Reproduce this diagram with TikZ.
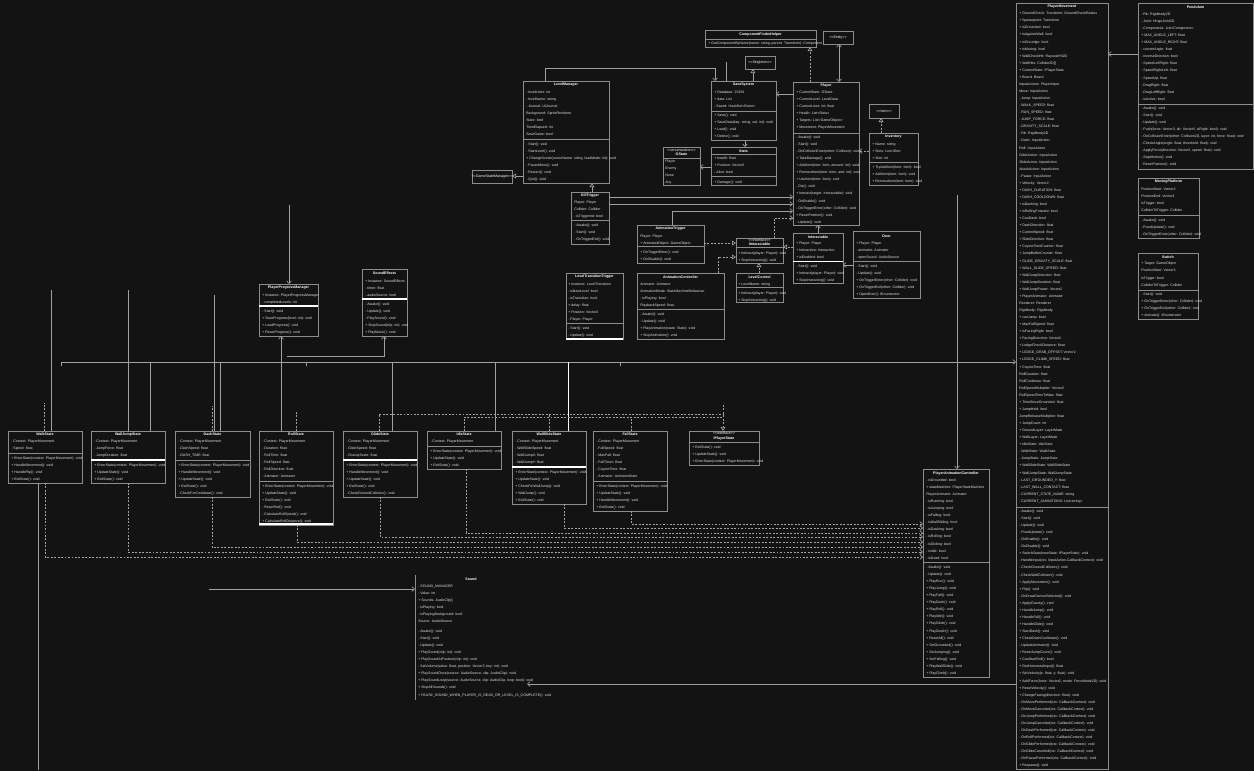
\documentclass[tikz,border=0pt]{standalone}
\usepackage{fontspec}
\setmainfont{Liberation Sans}
\usetikzlibrary{arrows.meta}
\definecolor{bgc}{HTML}{131313}
\definecolor{boxc}{HTML}{8C8C8C}
\definecolor{txt}{HTML}{E4E4E4}
\definecolor{lnc}{HTML}{A0A0A0}
\newcommand\Lg{{<}{<}}
\newcommand\Rg{{>}{>}}
\newcommand\UCls[8][]{\node[clsbox,#1,minimum width={(#5-#3)*0.75pt},minimum height={(#6-#4)*0.75pt}] (#2) at (#3,#4) {};\node[clstitle] (#2-t) at ({(#3+#5)/2},#8) {#7};}
\newcommand\URows[4]{\node[clsrow] (#1) at (#2,#3) {#4};}
\newcommand\USep[4]{\draw[#4] (#1,#3) -- (#2,#3);}
\begin{document}
\begin{tikzpicture}[x=0.75pt,y=-0.75pt,
 clsbox/.style={draw=boxc,line width=0.55pt,anchor=north west,inner sep=0pt,outer sep=0pt},
 clstitle/.style={font=\fontsize{2.7}{3.3}\selectfont\bfseries,text=white,inner sep=0pt,align=center},
 clsrow/.style={font=\fontsize{2.65}{5.3}\selectfont,text=txt,align=left,anchor=north west,inner sep=0pt},
 sepl/.style={draw=boxc,line width=0.55pt},
 sepw/.style={draw=white,line width=0.9pt},
 conn/.style={draw=lnc,line width=0.45pt},
 dconn/.style={draw=lnc,line width=0.5pt,dash pattern=on 1.4pt off 1.2pt},
 hd/.style={-{Straight Barb[length=2pt,width=3.6pt]}},
 tri/.style={-{Triangle[open,length=3pt,width=3.6pt]}},
 hdb/.style={{Straight Barb[length=2pt,width=3.6pt]}-{Straight Barb[length=2pt,width=3.6pt]}}]
\fill[bgc] (0,0) rectangle (1254,771);
\useasboundingbox (0,0) rectangle (1254,771);

% ---------- top area ----------
\UCls{comp}{705}{30}{816}{47}{ComponentFinderHelper}{34.5}
\USep{705}{816}{39}{sepl}
\URows{comp-a}{708}{42.1}{+ GetComponentByName(name: string, parent: Transform): Component}

\UCls{st1}{745}{56}{775}{69}{\mdseries\Lg Singleton\Rg}{62.5}
\UCls{st2}{823}{31}{853}{44}{\mdseries\Lg Entity\Rg}{37.5}
\UCls{st3}{869}{104}{899}{118}{\mdseries\Lg Item\Rg}{111}

\UCls{lm}{523}{81}{609}{183}{LevelManager}{85}
\URows{lm-a}{526}{90.6}{- levelIndex: int\\- levelName: string\\- Journal: UIJournal\\Background: SpriteRenderer\\State: bool\\TimeElapsed: int\\SaveGame: bool}
\USep{523}{609}{139}{sepl}
\URows{lm-m}{526}{142.6}{- Start(): void\\- StartLevel(): void\\+ ChangeScene(sceneName: string, loadMode: int): void\\- PauseMenu(): void\\- Restart(): void\\- Quit(): void}

\UCls{gsm}{472}{170}{512}{183}{\mdseries\Lg GameStateManager\Rg}{176.5}

\UCls{ui}{711}{81}{776}{140}{SaveSystem}{85}
\URows{ui-a}{714}{90.6}{+ Database: JSON\\+ data: List\\- Saved: HashSet<Event>}
\USep{711}{776}{111}{sepl}
\URows{ui-m}{714}{113.6}{+ Save(): void\\+ SaveData(key: string, val: int): void\\+ Load(): void\\+ Delete(): void}

\UCls{enum}{663}{147}{700}{185}{\mdseries\Lg enumeration\Rg\\GState}{152.5}
\USep{663}{700}{158}{sepl}
\URows{enum-a}{665}{159.6}{Player\\Enemy\\None\\Any}

\UCls{stats}{711}{147}{776}{185}{Stats}{151}
\USep{711}{776}{154.5}{sepl}
\URows{stats-a}{714}{156.6}{+ health: float\\+ Position: Vector3\\- Alive: bool}
\USep{711}{776}{176.5}{sepl}
\URows{stats-m}{714}{180.6}{+ Damage(): void}

\UCls{player}{793}{82}{859}{225}{Player}{86}
\URows{player-a}{796}{90.6}{+ CurrentState: GState\\+ CurrentLevel: LevelData\\+ CurrentLives: int; float\\+ Health: List<Stats>\\+ Targets: List<GameObject>\\+ Movement: PlayerMovement}
\USep{793}{859}{133}{sepl}
\URows{player-m}{796}{135.6}{- Awake(): void\\- Start(): void\\- OnCollisionEnter(other: Collision): void\\+ TakeDamage(): void\\+ AddItem(item: Item, amount: int): void\\+ RemoveItem(item: Item, amt: int): void\\+ UseItem(item: Item): void\\- Die(): void\\+ Interact(target: Interactable): void\\- OnEnable(): void\\- OnTriggerEnter(other: Collider): void\\+ ResetPosition(): void\\- Update(): void}

\UCls{inv}{869}{133}{918}{185}{Inventory}{137}
\URows{inv-a}{872}{142.6}{+ Name: string\\+ Slots: List<Slot>\\+ Size: int}
\USep{869}{918}{162}{sepl}
\URows{inv-m}{872}{165.6}{+ TryAddItem(item: Item): bool\\+ AddItem(item: Item): void\\+ RemoveItem(item: Item): void}

\UCls{kill}{571}{192}{609}{244}{KillTrigger}{196}
\URows{kill-a}{574}{200.6}{Player: Player\\Collider: Collider\\- isTriggered: bool}
\USep{571}{609}{220}{sepl}
\URows{kill-m}{574}{223.6}{- Awake(): void\\- Start(): void\\- OnTriggerExit(): void}

\UCls{anim}{637}{225}{704}{263}{AnimationTrigger}{229}
\URows{anim-a}{640}{234.6}{Player: Player\\+ AnimatedObject: GameObject}
\USep{637}{704}{246.5}{sepl}
\URows{anim-m}{640}{250.6}{+ OnTriggerEnter(): void\\+ OnDisable(): void}

\UCls{pt}{566}{273}{623}{339}{LevelTransitionTrigger}{277}
\URows{pt-a}{568}{282.6}{+ Instance: LevelTransition\\- isNextLevel: bool\\- isTransition: bool\\+ delay: float\\+ Position: Vector3\\- Player: Player}
\USep{566}{623}{323}{sepl}
\URows{pt-m}{568}{326.6}{- Start(): void\\- Update(): void}
\USep{566}{623}{339}{sepw}

\UCls{anctrl}{637}{273}{724}{339}{AnimationController}{277}
\URows{anctrl-a}{640}{282.6}{Animator: Animator\\AnimationMode: StateMachineBehaviour\\- isPlaying: bool\\PlaybackSpeed: float}
\USep{637}{724}{309}{sepl}
\URows{anctrl-m}{640}{312.6}{- Awake(): void\\- Update(): void\\+ PlayAnimation(state: State): void\\+ StopAnimation(): void}

\UCls{iface}{736}{238}{783}{263}{\mdseries\Lg Interface\Rg\\IInteractable}{242.5}
\USep{736}{783}{247.5}{sepl}
\URows{iface-m}{738}{251.6}{+ Interact(player: Player): void\\+ StopInteracting(): void}

\UCls{lc}{736}{273}{783}{302}{LevelControl}{277}
\URows{lc-a}{738}{282.6}{+ LevelName: string}
\USep{736}{783}{287.5}{sepl}
\URows{lc-m}{738}{291.6}{+ Interact(player: Player): void\\+ StopInteracting(): void}

\UCls{inter}{793}{233}{843}{283}{Interactable}{237}
\URows{inter-a}{796}{241.6}{+ Player: Player\\+ Interaction: Interaction\\+ isEnabled: bool}
\USep{793}{843}{261.5}{sepw}
\URows{inter-m}{796}{264.6}{- Start(): void\\+ Interact(player: Player): void\\+ StopInteracting(): void}

\UCls{door}{853}{231}{920}{298}{Door}{236}
\URows{door-a}{856}{241.6}{+ Player: Player\\- animator: Animator\\- openSound: AudioSource}
\USep{853}{920}{261.5}{sepl}
\URows{door-m}{856}{264.6}{- Start(): void\\- Update(): void\\+ OnTriggerEnter(other: Collider): void\\+ OnTriggerExit(other: Collider): void\\+ OpenDoor(): IEnumerator}

\UCls{ppm}{259}{284}{318}{336}{PlayerProgressManager}{288}
\URows{ppm-a}{262}{293.6}{+ Instance: PlayerProgressManager\\- completedLevels: int}
\USep{259}{318}{306}{sepw}
\URows{ppm-m}{262}{309.6}{- Start(): void\\+ SaveProgress(level: int): void\\+ LoadProgress(): void\\+ ResetProgress(): void}

\UCls{sfx}{362}{269}{407}{336}{SoundEffects}{273}
\URows{sfx-a}{365}{279.6}{+ Instance: SoundEffects\\- timer: float\\- audioSource: bool}
\USep{362}{407}{299}{sepw}
\URows{sfx-m}{365}{302.6}{- Awake(): void\\- Update(): void\\- PlaySound(): void\\+ StopSound(clip: int): void\\+ PlayMusic(): void}

% ---------- state row ----------
\UCls{walk}{8}{431}{82}{483}{WalkState}{434.5}
\URows{walk-a}{11}{439.6}{- Context: PlayerMovement\\- Speed: float}
\USep{8}{82}{453}{sepl}
\URows{walk-m}{11}{456.6}{+ EnterState(context: PlayerMovement): void\\+ HandleMovement(): void\\+ HandleFlip(): void\\+ ExitState(): void}

\UCls{jump}{91}{431}{165}{483}{WallJumpState}{434.5}
\URows{jump-a}{94}{439.6}{- Context: PlayerMovement\\- JumpForce: float\\- JumpDuration: float}
\USep{91}{165}{460}{sepw}
\URows{jump-m}{94}{463.6}{+ EnterState(context: PlayerMovement): void\\+ UpdateState(): void\\+ ExitState(): void}

\UCls{dash}{175}{431}{250}{497}{DashState}{434.5}
\URows{dash-a}{178}{439.6}{- Context: PlayerMovement\\- DashSpeed: float\\- DASH\_TIME: float}
\USep{175}{250}{460}{sepl}
\URows{dash-m}{178}{463.6}{+ EnterState(context: PlayerMovement): void\\+ HandleMovement(): void\\+ UpdateState(): void\\+ ExitState(): void\\- CheckForCooldown(): void}

\UCls{roll}{259}{431}{333}{525}{RollState}{434.5}
\URows{roll-a}{262}{439.6}{- Context: PlayerMovement\\- Duration: float\\- RollTime: float\\- RollSpeed: float\\- RollDirection: float\\- Animator: Animator}
\USep{259}{333}{481}{sepl}
\URows{roll-m}{262}{484.6}{+ EnterState(context: PlayerMovement): void\\+ UpdateState(): void\\+ ExitState(): void\\- ResetRoll(): void\\- CalculateRollSpeed(): void\\+ CalculateRollDistance(): void}
\USep{259}{333}{524}{sepw}

\UCls{glide}{343}{431}{417}{497}{GlideState}{434.5}
\URows{glide-a}{346}{439.6}{- Context: PlayerMovement\\- GlideSpeed: float\\- GravityScale: float}
\USep{343}{417}{460}{sepw}
\URows{glide-m}{346}{463.6}{+ EnterState(context: PlayerMovement): void\\+ HandleMovement(): void\\+ UpdateState(): void\\+ ExitState(): void\\- CheckGroundCollision(): void}

\UCls{idle}{427}{431}{501}{469}{IdleState}{434.5}
\URows{idle-a}{430}{439.6}{- Context: PlayerMovement}
\USep{427}{501}{446}{sepl}
\URows{idle-m}{430}{449.6}{+ EnterState(context: PlayerMovement): void\\+ UpdateState(): void\\+ ExitState(): void}

\UCls{wall}{512}{431}{586}{504}{WallSlideState}{434.5}
\URows{wall-a}{515}{439.6}{- Context: PlayerMovement\\- WallSlideSpeed: float\\- WallJumpX: float\\- WallJumpY: float}
\USep{512}{586}{467}{sepw}
\URows{wall-m}{515}{470.6}{+ EnterState(context: PlayerMovement): void\\+ UpdateState(): void\\+ CheckForWallJump(): void\\+ WallJump(): void\\+ ExitState(): void}

\UCls{fall}{593}{431}{667}{511}{FallState}{434.5}
\URows{fall-a}{596}{439.6}{- Context: PlayerMovement\\- FallSpeed: float\\- MaxFall: float\\- FallTimer: float\\- CoyoteTime: float\\- Animator: AnimatorState}
\USep{593}{667}{481}{sepl}
\URows{fall-m}{596}{484.6}{+ EnterState(context: PlayerMovement): void\\+ UpdateState(): void\\+ HandleMovement(): void\\+ ExitState(): void}

\UCls{istate}{689}{431}{759}{465}{\mdseries\Lg interface\Rg\\IPlayerState}{436}
\USep{689}{759}{442}{sepl}
\URows{istate-m}{692}{445.6}{+ ExitState(): void\\+ UpdateState(): void\\+ EnterState(context: PlayerMovement): void}

% ---------- right side ----------
\UCls{pac}{923}{469}{989}{677}{PlayerAnimationController}{473.5}
\URows{pac-a}{926}{478.6}{- isGrounded: bool\\+ stateMachine: PlayerStateMachine\\PlayerAnimator: Animator\\- isRunning: bool\\- isJumping: bool\\- isFalling: bool\\- isWallSliding: bool\\- isDashing: bool\\- isRolling: bool\\- isGliding: bool\\- isIdle: bool\\- isDead: bool}
\USep{923}{989}{562}{sepl}
\URows{pac-m}{926}{565.6}{- Awake(): void\\- Update(): void\\+ PlayRun(): void\\+ PlayJump(): void\\+ PlayFall(): void\\+ PlayDash(): void\\+ PlayRoll(): void\\+ PlayIdle(): void\\+ PlayGlide(): void\\+ PlayDeath(): void\\+ ResetAll(): void\\+ SetGrounded(): void\\+ SetJumping(): void\\+ SetFalling(): void\\+ PlayWallSlide(): void\\+ PlayClimb(): void}

\UCls{pm}{1016}{3}{1108}{769}{PlayerMovement}{7}
\URows{pm-a}{1019}{11.9}{+ GroundCheck: Transform; GroundCheckRadius\\+ Spawnpoint: Transform\\+ isGrounded: bool\\+ isAgainstWall: bool\\+ isOnLedge: bool\\+ isMoving: bool\\+ WallCheckHit: RaycastHit2D\\+ WallHits: Collider2D[]\\+ CurrentState: IPlayerState\\+ Board: Board\\InputActions: PlayerInput\\Move: InputAction\\- Jump: InputAction\\- WALK\_SPEED: float\\- RUN\_SPEED: float\\- JUMP\_FORCE: float\\- GRAVITY\_SCALE: float\\- Rb: Rigidbody2D\\- Dash: InputAction\\Roll: InputAction\\GlideAction: InputAction\\SlideAction: InputAction\\AttackAction: InputAction\\- Pause: InputAction\\+ Velocity: Vector2\\+ DASH\_DURATION: float\\+ DASH\_COOLDOWN: float\\+ isDashing: bool\\+ isRollingForward: bool\\+ CanDash: bool\\+ DashDirection: float\\+ CurrentSpeed: float\\+ SlideDirection: float\\+ CoyoteTimeCounter: float\\+ JumpBufferCounter: float\\+ GLIDE\_GRAVITY\_SCALE: float\\+ WALL\_SLIDE\_SPEED: float\\+ WallJumpDirection: float\\+ WallJumpDuration: float\\+ WallJumpPower: Vector2\\+ PlayerAnimator: Animator\\Renderer: Renderer\\Rigidbody: Rigidbody\\+ canJump: bool\\+ MaxFallSpeed: float\\+ isFacingRight: bool\\+ FacingDirection: Vector2\\+ LedgeCheckDistance: float\\+ LEDGE\_GRAB\_OFFSET: Vector2\\+ LEDGE\_CLIMB\_SPEED: float\\+ CoyoteTime: float\\RollDuration: float\\RollCooldown: float\\RollSpeedMultiplier: Vector2\\RollSpeedTimeToMax: float\\+ TimeSinceGrounded: float\\+ JumpHeld: bool\\JumpReleaseMultiplier: float\\+ JumpCount: int\\+ GroundLayer: LayerMask\\+ WallLayer: LayerMask\\+ IdleState: IdleState\\- WalkState: WalkState\\- JumpState: JumpState\\+ WallSlideState: WallSlideState\\+ WallJumpState: WallJumpState\\- LAST\_GROUNDED\_Y: float\\- LAST\_WALL\_CONTACT: float\\- CURRENT\_STATE\_NAME: string\\- CURRENT\_ANIMATIONS: List<string>}
\USep{1016}{1108}{507}{sepl}
\URows{pm-m}{1019}{509.6}{- Awake(): void\\- Start(): void\\- Update(): void\\- FixedUpdate(): void\\- OnEnable(): void\\- OnDisable(): void\\+ SwitchState(newState: IPlayerState): void\\- HandleInput(ctx: InputAction.CallbackContext): void\\- CheckGroundCollision(): void\\- CheckWallCollision(): void\\+ ApplyMovement(): void\\+ Flip(): void\\- OnDrawGizmosSelected(): void\\+ ApplyGravity(): void\\+ HandleJump(): void\\+ HandleFall(): void\\+ HandleGlide(): void\\+ StartDash(): void\\+ CheckDashCooldown(): void\\- UpdateAnimator(): void\\+ ResetJumpCount(): void\\+ CanStartRoll(): bool\\+ GetHorizontalInput(): float\\+ SetVelocity(x: float, y: float): void\\+ AddForce(force: Vector2, mode: ForceMode2D): void\\+ ResetVelocity(): void\\+ ChangeFacing(direction: float): void\\- OnMovePerformed(ctx: CallbackContext): void\\- OnMoveCanceled(ctx: CallbackContext): void\\- OnJumpPerformed(ctx: CallbackContext): void\\- OnJumpCanceled(ctx: CallbackContext): void\\- OnDashPerformed(ctx: CallbackContext): void\\- OnRollPerformed(ctx: CallbackContext): void\\- OnGlidePerformed(ctx: CallbackContext): void\\- OnGlideCanceled(ctx: CallbackContext): void\\- OnPausePerformed(ctx: CallbackContext): void\\+ Respawn(): void}

\UCls{pend}{1138}{3}{1253}{169}{Pendulum}{7}
\URows{pend-a}{1141}{12.6}{- Rb: Rigidbody2D\\- Joint: HingeJoint2D\\- Components: List<Component>\\+ MAX\_ANGLE\_LEFT: float\\+ MAX\_ANGLE\_RIGHT: float\\- currentAngle: float\\- inverseDirection: bool\\- SpeedLeftRight: float\\- SpeedRightLeft: float\\- SpeedUp: float\\- DragRight: float\\- DragLeftRight: float\\- isActive: bool}
\USep{1138}{1253}{104}{sepl}
\URows{pend-m}{1141}{106.6}{- Awake(): void\\- Start(): void\\- Update(): void\\- Push(force: Vector3, dir: Vector3, isRight: bool): void\\- OnCollisionEnter(other: Collision2D, layer: int, force: float): void\\- CheckAngle(angle: float, threshold: float): void\\- ApplyForce(direction: Vector3, speed: float): void\\- StopMotion(): void\\- ResetPosition(): void}

\UCls{mov}{1138}{178}{1199}{238}{MovingPlatform}{182}
\URows{mov-a}{1141}{187.6}{PositionStart: Vector3\\PositionEnd: Vector3\\isTrigger: bool\\ColliderToTrigger: Collider}
\USep{1138}{1199}{215.5}{sepl}
\URows{mov-m}{1141}{218.6}{- Awake(): void\\- FixedUpdate(): void\\- OnTriggerEnter(other: Collider): void}

\UCls{sw}{1138}{253}{1198}{319}{Switch}{257}
\URows{sw-a}{1141}{262.1}{+ Target: GameObject\\PositionStart: Vector3\\isTrigger: bool\\ColliderToTrigger: Collider}
\USep{1138}{1198}{290}{sepl}
\URows{sw-m}{1141}{292.6}{- Start(): void\\+ OnTriggerEnter(other: Collider): void\\+ OnTriggerExit(other: Collider): void\\+ Activate(): IEnumerator}

% ---------- bottom ----------
\UCls[draw=none]{snd}{415}{575}{527}{700}{Sound}{579}
\draw[sepl] (snd.north west) -- (snd.south west);
\URows{snd-a}{418}{584.6}{- SOUND\_MANAGER\\- Value: int\\+ Sounds: AudioClip[]\\- isPlaying: bool\\- isPlayingBackground: bool\\Source: AudioSource}
\URows{snd-m}{418}{629.6}{- Awake(): void\\- Start(): void\\- Update(): void\\+ PlaySound(clip: int): void\\+ PlaySoundAtPosition(clip: int): void\\- SetVolume(value: float, position: Vector3, key: int): void\\+ PlaySoundOnce(source: AudioSource, clip: AudioClip): void\\+ PlaySoundLoop(source: AudioSource, clip: AudioClip, loop: bool): void\\+ StopAllSounds(): void\\+ PAUSE\_SOUND\_WHEN\_PLAYER\_IS\_DEAD\_OR\_LEVEL\_IS\_COMPLETE(): void}

% ---------- free ends and junctions ----------
\coordinate (f726) at (726,62);
\coordinate (f289) at (289,205);
\coordinate (f287) at (287,356);
\coordinate (h0) at (61,362);
\coordinate (f51) at (51,290);
\coordinate (f128) at (128,290);
\coordinate (f214) at (214,295);
\coordinate (f38) at (38,770);
\coordinate (f957) at (957,195);
\coordinate (f209) at (209,589);
\coordinate (s44) at (44,403);
\coordinate (s212) at (212,406);
\coordinate (s296) at (296,412);
\coordinate (j549) at (549,414);
\coordinate (j631) at (631,417);
\coordinate (s723) at (723,405);

% ---------- connectors (top) ----------
\draw[dconn,tri] (player.north -| 810,0) -- (comp.south -| 810,0);
\draw[conn,hdb] (st2.south -| 839,0) -- (player.north -| 839,0);
\draw[conn] (f726) -- (ui.north -| 726,0);
\draw[conn,tri] (ui.north -| 753,0) -- (st1.south -| 753,0);
\draw[conn,hd] (lm.north -| 545,0) |- (715,68) -- (ui.north -| 715,0);
\draw[conn,hd] (player.west |- 0,94) -- (ui.east |- 0,94);
\draw[conn,hd] (ui.south -| 745,0) -- (stats.north -| 745,0);
\draw[conn,hd] (stats.west |- 0,167) -- (enum.east |- 0,167);
\draw[dconn,tri] (inv.north -| 881,0) -- (st3.south -| 881,0);
\draw[dconn,hd] (inv.west |- 0,151) -- (player.east |- 0,151);
\draw[conn,tri] (kill.north -| 592,0) -- (lm.south -| 592,0);
\draw[conn,tri] (lm.west |- 0,176) -- (gsm.east |- 0,176);
\draw[conn,hd] (kill.east |- 0,197) -- (player.west |- 0,197);
\draw[conn,hd] (kill.east |- 0,204) -- (player.west |- 0,204);
\draw[conn,hd] (anim.north -| 672,0) |- (player.west |- 0,211);
\draw[dconn,hd] (iface.north -| 774,0) |- (player.west |- 0,218);
\draw[dconn,tri] (anim.east |- 0,243) -- (iface.west |- 0,243);
\draw[dconn,tri] (anctrl.north -| 718,0) |- (iface.west |- 0,257);
\draw[dconn,tri] (inter.west |- 0,247) -- (iface.east |- 0,247);
\draw[dconn,tri] (lc.north -| 759,0) -- (iface.south -| 759,0);
\draw[conn,hd] (door.west |- 0,265) -- (inter.east |- 0,265);
\draw[conn,hd] (inter.north -| 818,0) -- (player.south -| 818,0);
\draw[conn,hd] (pend.west |- 0,54) -- (pm.east |- 0,54);
\draw[conn,hd] (f289) -- (ppm.north -| 289,0);
\draw[conn,hd] (roll.north -| 281,0) -- (ppm.south -| 281,0);
\draw[conn,hd] (f287) -| (sfx.south -| 384,0);

% ---------- connectors (state row) ----------
\draw[conn,hd] (h0) -- (pm.west |- 0,362);
\draw[conn] (h0) -- ++(0,4);
\draw[conn] (jump.north -| 150,0) -- (h0 -| 150,0);
\draw[conn] (dash.north -| 220,0) -- (h0 -| 220,0);
\draw[conn] (h0 -| 306,0) -- ++(0,4);
\draw[conn] (glide.north -| 392,0) -- (h0 -| 392,0);
\draw[conn] (idle.north -| 495,0) -- (h0 -| 495,0);
\draw[conn,draw=white] (wall.north -| 568,0) -- (h0 -| 568,0);
\draw[conn] (h0 -| 620,0) -- ++(0,4);
\draw[conn] (f51) -- (walk.north -| 51,0);
\draw[conn] (f128) -- (jump.north -| 128,0);
\draw[conn] (f214) -- (dash.north -| 214,0);
\draw[conn] (walk.south -| 38,0) -- (f38);

\draw[dconn] (walk.north -| 44,0) -- (s44);
\draw[dconn] (dash.north -| 212,0) -- (s212);
\draw[dconn] (roll.north -| 296,0) -- (s296);
\draw[dconn] (glide.north -| 379,0) |- (723,414);
\draw[dconn] (idle.north -| 464,0) |- (723,417);
\draw[dconn] (wall.north -| 549,0) -- (j549);
\draw[dconn] (fall.north -| 631,0) -- (j631);
\draw[dconn,tri] (s723) -- (istate.north -| 723,0);

\draw[dconn,hd] (walk.south -| 45,0) |- (pac.west |- 0,557);
\draw[dconn,hd] (jump.south -| 128,0) |- (pac.west |- 0,552);
\draw[dconn,hd] (dash.south -| 212,0) |- (pac.west |- 0,547);
\draw[dconn,hd] (roll.south -| 297,0) |- (pac.west |- 0,542);
\draw[dconn,hd] (glide.south -| 380,0) |- (pac.west |- 0,537);
\draw[dconn,hd] (idle.south -| 466,0) |- (pac.west |- 0,533);
\draw[dconn,hd] (wall.south -| 564,0) |- (pac.west |- 0,528);
\draw[dconn,hd] (fall.south -| 631,0) |- (pac.west |- 0,524);

\draw[conn,hd] (f957) -- (pac.north -| 957,0);
\draw[conn,hd] (pm.west |- 0,684) -- (snd.east |- 0,684);
\draw[conn,hd] (f209) -- (snd.west |- 0,589);
\end{tikzpicture}
\end{document}
